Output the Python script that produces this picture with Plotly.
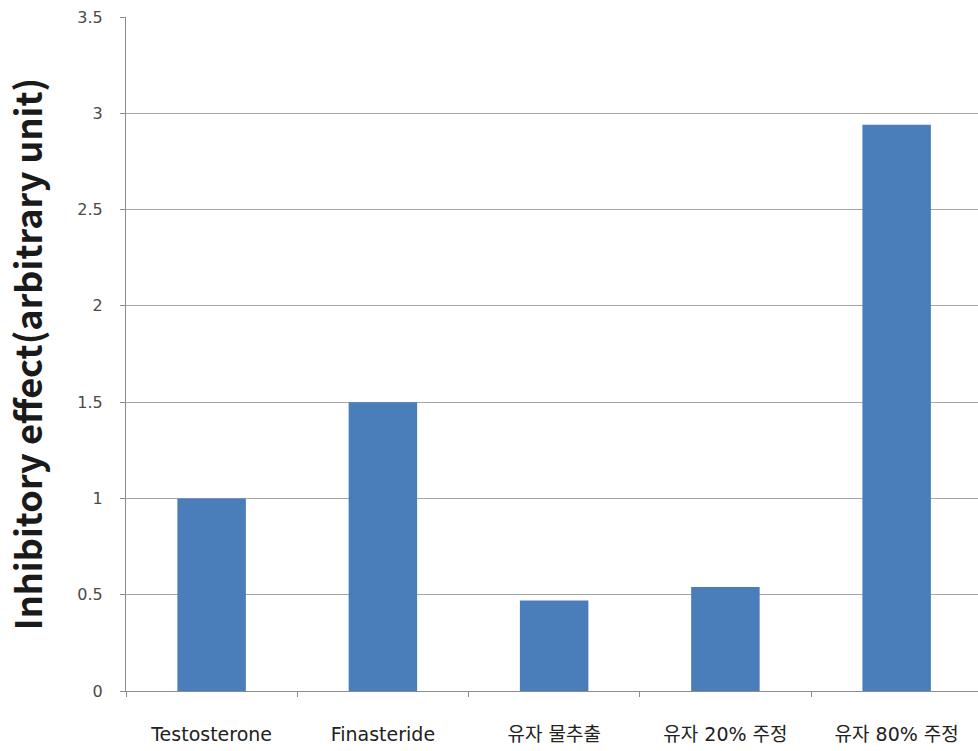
import plotly.graph_objects as go

categories = ["Testosterone", "Finasteride", "유자 물추출", "유자 20% 주정", "유자 80% 주정"]
values = [1.0, 1.5, 0.47, 0.54, 2.94]
y_ticks = [0, 0.5, 1, 1.5, 2, 2.5, 3, 3.5]
y_tick_labels = ["0", "0.5", "1", "1.5", "2", "2.5", "3", "3.5"]

font_family = "Noto Sans CJK KR, Noto Sans, sans-serif"
tick_family = "DejaVu Sans, Noto Sans CJK KR, sans-serif"

fig = go.Figure(
    go.Bar(
        x=categories,
        y=values,
        marker=dict(color="#4a7ebb", line=dict(width=0)),
        width=0.4,
    )
)

fig.update_layout(
    width=978,
    height=751,
    margin=dict(l=126, r=0, t=17, b=60),
    paper_bgcolor="white",
    plot_bgcolor="white",
    showlegend=False,
    font=dict(family=font_family, color="#222222"),
)

fig.update_xaxes(
    range=[-0.5, 4.475],
    showgrid=False,
    showline=True,
    linecolor="#8c8c8c",
    linewidth=1,
    ticks="outside",
    tickson="boundaries",
    ticklen=5,
    tickcolor="#8c8c8c",
    ticklabelstandoff=26,
    tickfont=dict(size=19, color="#222222", family=tick_family),
    zeroline=False,
)

fig.update_yaxes(
    range=[0, 3.5],
    tickvals=y_ticks,
    ticktext=y_tick_labels,
    showgrid=True,
    gridcolor="#a6a6a6",
    gridwidth=1,
    showline=True,
    linecolor="#8c8c8c",
    linewidth=1,
    ticks="outside",
    ticklen=5,
    tickcolor="#8c8c8c",
    ticklabelstandoff=14,
    tickfont=dict(size=16, color="#4a4a4a", family=tick_family),
    zeroline=False,
    title=dict(
        text="<b>Inhibitory effect(arbitrary unit)</b>",
        font=dict(size=36, color="#1a1a1a", family=font_family),
        standoff=26,
    ),
)

fig.write_html("out.html")
